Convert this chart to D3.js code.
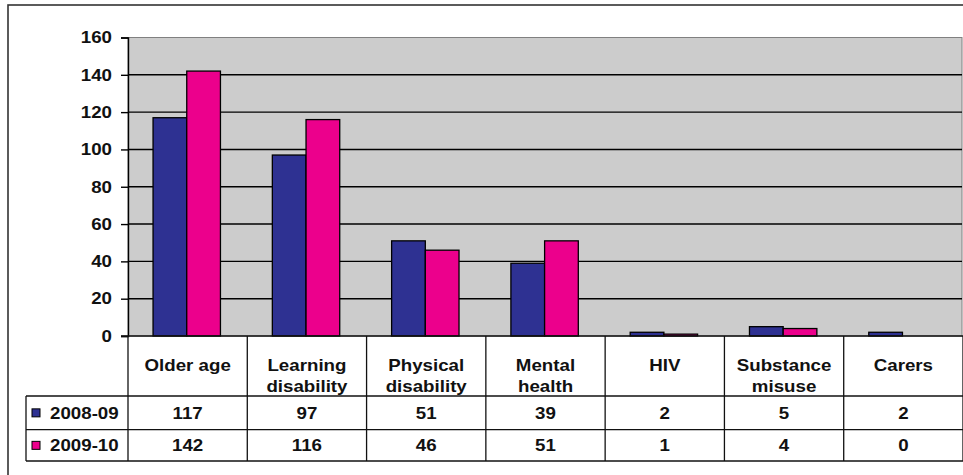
<!DOCTYPE html>
<html>
<head>
<meta charset="utf-8">
<script src="https://cdn.jsdelivr.net/npm/d3@7"></script>
<style>
  html, body { margin: 0; padding: 0; background: #fff; }
  svg { display: block; }
  text { font-family: "Liberation Sans", Arial, Helvetica, sans-serif; font-weight: bold; fill: #111; }
</style>
</head>
<body>
<svg id="chart" width="963" height="475"></svg>
<script>
const categories = ["Older age", "Learning disability", "Physical disability", "Mental health", "HIV", "Substance misuse", "Carers"];
const categoryLines = [["Older age"], ["Learning", "disability"], ["Physical", "disability"], ["Mental", "health"], ["HIV"], ["Substance", "misuse"], ["Carers"]];
const seriesNames = ["2008-09", "2009-10"];
const values0809 = [117, 97, 51, 39, 2, 5, 2];
const values0910 = [142, 116, 46, 51, 1, 4, 0];
const yTicks = [0, 20, 40, 60, 80, 100, 120, 140, 160];
const colors = ["#2e3192", "#ec008c"];

const seriesValues = [values0809, values0910];
const svg = d3.select("#chart");
const W = 963, H = 475;
const plotL = 128, plotR = 963, plotT = 37.5, plotB = 336;
const headerB = 396, row1B = 429.7, row2B = 461, legendL = 26;
const FS = 16, SX = 1.17;

function txt(g, x, y, s, anchor) {
  return g.append("text")
    .attr("transform", `translate(${x},${y}) scale(${SX},1)`)
    .attr("text-anchor", anchor || "middle")
    .style("font-size", FS + "px")
    .text(s);
}

// outer border
svg.append("rect").attr("x", 8).attr("y", 5).attr("width", W).attr("height", H)
  .attr("fill", "none").attr("stroke", "#333").attr("stroke-width", 1.6);

const x = d3.scaleBand().domain(categories).range([plotL, plotR]).padding(0);
const y = d3.scaleLinear().domain([0, 160]).range([plotB, plotT]);
const xs = d3.scaleBand().domain(seriesNames)
  .range([x.bandwidth() * 0.21, x.bandwidth() * 0.775]).padding(0);

// plot background
svg.append("rect").attr("x", plotL).attr("y", plotT)
  .attr("width", plotR - plotL - 1).attr("height", plotB - plotT)
  .attr("fill", "#cccccc").attr("stroke", "#808080").attr("stroke-width", 1);

// gridlines
svg.append("g").selectAll("line").data(yTicks.filter(t => t > 0 && t < 160)).join("line")
  .attr("x1", plotL).attr("x2", plotR - 1)
  .attr("y1", d => y(d)).attr("y2", d => y(d))
  .attr("stroke", "#000").attr("stroke-width", 1.4);

// bars
const groups = svg.append("g").selectAll("g").data(categories).join("g")
  .attr("transform", d => `translate(${x(d)},0)`);
groups.selectAll("rect").data((d, i) => seriesNames.map((s, j) => ({ s, v: seriesValues[j][i], j })))
  .join("rect")
  .attr("x", d => xs(d.s)).attr("width", xs.bandwidth())
  .attr("y", d => y(d.v)).attr("height", d => y(0) - y(d.v))
  .attr("fill", d => colors[d.j]).attr("stroke", "#000").attr("stroke-width", 1.3);

// y axis
const yAxis = d3.axisLeft(y).tickValues(yTicks).tickSize(7).tickFormat("");
const ya = svg.append("g").attr("transform", `translate(${plotL},0)`).call(yAxis);
ya.select(".domain").attr("stroke", "#000").attr("stroke-width", 1.4);
ya.selectAll(".tick line").attr("stroke", "#000").attr("stroke-width", 1.4);
const tl = svg.append("g");
yTicks.forEach(t => txt(tl, 112, y(t) + 5.8, String(t), "end"));

// data table
const tg = svg.append("g");
const line = (x1, y1, x2, y2) => tg.append("line").attr("x1", x1).attr("y1", y1).attr("x2", x2).attr("y2", y2)
  .attr("stroke", "#111").attr("stroke-width", 1.3);
line(plotL - 7, plotB, plotR, plotB);
line(legendL, headerB, plotR, headerB);
line(legendL, row1B, plotR, row1B);
line(legendL, row2B, plotR, row2B);
line(legendL, headerB, legendL, row2B);
line(plotL, plotB, plotL, row2B);
categories.forEach(c => line(x(c) + x.bandwidth(), plotB, x(c) + x.bandwidth(), row2B));

categories.forEach((c, i) => {
  const cx = x(c) + x.bandwidth() / 2;
  categoryLines[i].forEach((l, k) => txt(tg, cx, 370.8 + k * 21, l));
  txt(tg, cx, (headerB + row1B) / 2 + 5.8, String(values0809[i]));
  txt(tg, cx, (row1B + row2B) / 2 + 5.8, String(values0910[i]));
});

// legend keys
seriesNames.forEach((s, j) => {
  const cy = j === 0 ? (headerB + row1B) / 2 : (row1B + row2B) / 2;
  tg.append("rect").attr("x", 32).attr("y", cy - 4).attr("width", 8).attr("height", 8)
    .attr("fill", colors[j]).attr("stroke", "#000").attr("stroke-width", 1);
  txt(tg, 50, cy + 5.8, s, "start");
});
</script>
</body>
</html>
